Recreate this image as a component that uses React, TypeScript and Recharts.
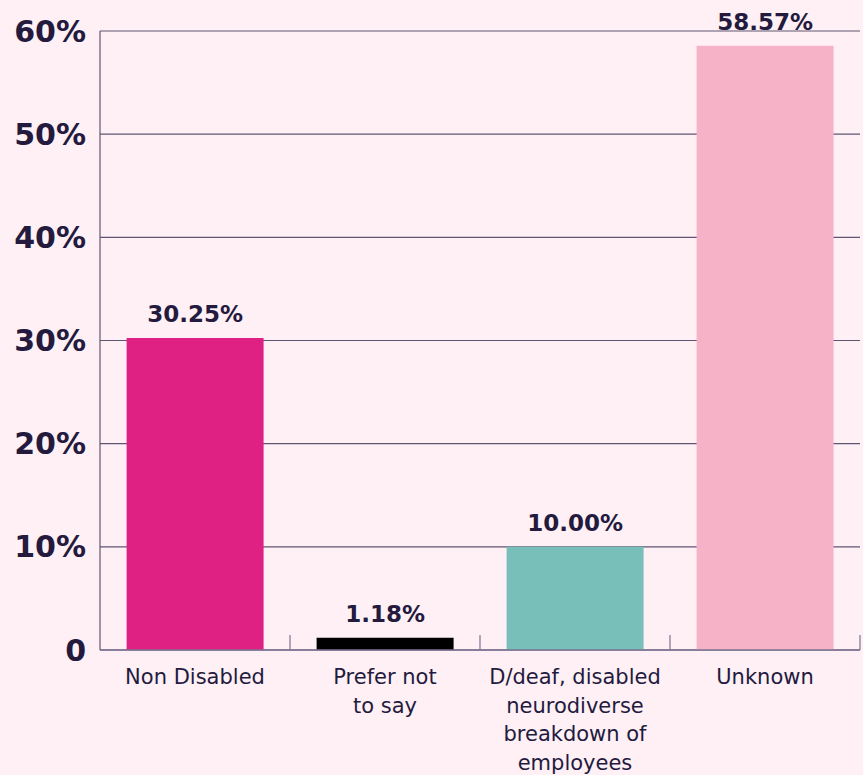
import React from "react";
import { BarChart, Bar, XAxis, YAxis, CartesianGrid, Cell, LabelList } from "recharts";

const categories = ["Non Disabled", "Prefer not to say", "D/deaf, disabled neurodiverse breakdown of employees", "Unknown"];
const labelLines = [["Non Disabled"], ["Prefer not", "to say"], ["D/deaf, disabled", "neurodiverse", "breakdown of", "employees"], ["Unknown"]];
const values = [30.25, 1.18, 10.0, 58.57];
const barColors = ["#df2183", "#000000", "#78bfb9", "#f6b3c8"];
const yTicks = [0, 10, 20, 30, 40, 50, 60];

const data = categories.map((c, i) => ({ name: c, idx: i, value: values[i] }));

const W = 863;
const H = 775;
const M = { top: 31, right: 3, left: 0, bottom: 0 };
const Y_W = 100;
const BAND = (W - M.left - M.right - Y_W) / categories.length;

const TEXT = "#231a3e";
const FONT = "'DejaVu Sans', sans-serif";

const XTick = (props: any) => {
  const { x, y, payload, index } = props;
  const lines = labelLines[index] ?? [String(payload.value)];
  return (
    <g>
      <line x1={x + BAND / 2} x2={x + BAND / 2} y1={y} y2={y - 15} stroke="#7d7290" strokeWidth={1.2} />
      <text x={x} y={y + 34} textAnchor="middle" fill={TEXT} fontFamily={FONT} fontSize={21}>
        {lines.map((l: string, i: number) => (
          <tspan key={i} x={x} dy={i === 0 ? 0 : 28.5}>{l}</tspan>
        ))}
      </text>
    </g>
  );
};

export default function App() {
  return (
    <div style={{ position: "absolute", left: 0, top: 0, width: W, height: H, background: "#fef0f5" }}>
      <BarChart width={W} height={H} data={data} margin={M} barCategoryGap="14%">
        <CartesianGrid vertical={false} stroke="#5f5573" strokeWidth={1.2} />
        <XAxis
          dataKey="name"
          height={H - 650}
          axisLine={{ stroke: "#7d7290", strokeWidth: 1.5 }}
          tickLine={false}
          tickSize={0}
          tickMargin={0}
          interval={0}
          tick={<XTick />}
        />
        <YAxis
          width={Y_W}
          domain={[0, 60]}
          ticks={yTicks}
          interval={0}
          axisLine={{ stroke: "#5f5573", strokeWidth: 1.2 }}
          tickLine={false}
          tickSize={0}
          tickMargin={14}
          tickFormatter={(v: number) => (v === 0 ? "0" : `${v}%`)}
          tick={{ fill: TEXT, fontFamily: FONT, fontSize: 30, fontWeight: 700 }}
        />
        <Bar dataKey="value" isAnimationActive={false}>
          {data.map((d, i) => (
            <Cell key={d.name} fill={barColors[i]} />
          ))}
          <LabelList
            dataKey="value"
            position="top"
            offset={16}
            formatter={(v: number) => `${v.toFixed(2)}%`}
            style={{ fill: TEXT, fontFamily: FONT, fontSize: 23, fontWeight: 700 }}
          />
        </Bar>
      </BarChart>
    </div>
  );
}
